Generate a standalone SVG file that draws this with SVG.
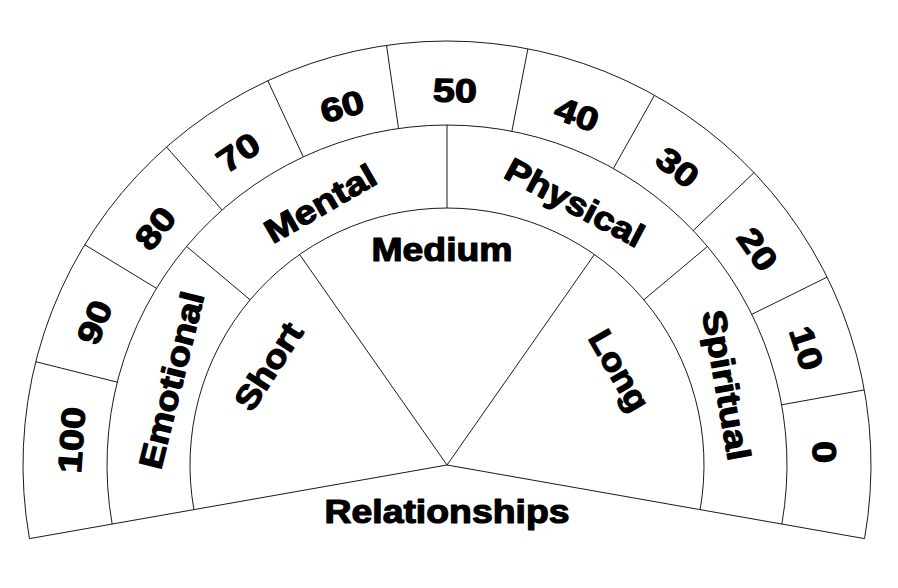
<svg xmlns="http://www.w3.org/2000/svg" width="898" height="588" viewBox="0 0 898 588">
<style>
.ln{fill:none;stroke:#1a1a1a;stroke-width:1}
.t{font-family:"Liberation Sans",Arial,sans-serif;font-weight:bold;font-size:33px;text-anchor:middle;fill:#000;stroke:#000;stroke-width:1.2;stroke-linejoin:round}
</style>
<rect width="898" height="588" fill="#fff"/>
<g id="connectors">
<path class="ln" d="M29.44 538.63 A424 424 0 1 1 864.56 538.63"/>
<path class="ln" d="M112.16 524.04 A340 340 0 1 1 781.84 524.04"/>
<path class="ln" d="M193.9 509.63 A257 257 0 1 1 700.1 509.63"/>
<path class="ln" d="M29.44 538.63 L447 465 L864.56 538.63"/>
<path class="ln" d="M117.24 382.17 L35.78 361.71 M156.5 288.36 L84.73 244.72 M222.08 210.03 L166.51 147.03 M303.31 156.85 L267.81 80.72 M398.51 128.47 L386.53 45.33 M511.88 131.25 L527.9 48.79 M613.39 168.5 L654.5 95.24 M693.22 230.53 L754.05 172.6 M751.81 314.36 L827.11 277.14 M781.63 404.79 L864.3 389.92"/>
<path class="ln" d="M250.13 299.8 L186.55 246.45 M447 208 L447 125 M643.87 299.8 L707.45 246.45"/>
<path class="ln" d="M447 465 L299.59 254.48 M447 465 L594.41 254.48"/>
</g>
<g id="n100"><text class="t" transform="translate(71,440) rotate(-86)" y="12" textLength="66" lengthAdjust="spacingAndGlyphs">100</text></g>
<g id="n90"><text class="t" transform="translate(94,322) rotate(-68)" y="12" textLength="44" lengthAdjust="spacingAndGlyphs">90</text></g>
<g id="n80"><text class="t" transform="translate(155,228) rotate(-51)" y="12" textLength="44" lengthAdjust="spacingAndGlyphs">80</text></g>
<g id="n70"><text class="t" transform="translate(238,152) rotate(-34)" y="12" textLength="44" lengthAdjust="spacingAndGlyphs">70</text></g>
<g id="n60"><text class="t" transform="translate(342,106) rotate(-16)" y="12" textLength="44" lengthAdjust="spacingAndGlyphs">60</text></g>
<g id="n50"><text class="t" transform="translate(455,90) rotate(1)" y="12" textLength="44" lengthAdjust="spacingAndGlyphs">50</text></g>
<g id="n40"><text class="t" transform="translate(577,114) rotate(20)" y="12" textLength="44" lengthAdjust="spacingAndGlyphs">40</text></g>
<g id="n30"><text class="t" transform="translate(678,167) rotate(38)" y="12" textLength="44" lengthAdjust="spacingAndGlyphs">30</text></g>
<g id="n20"><text class="t" transform="translate(758,249) rotate(55)" y="12" textLength="44" lengthAdjust="spacingAndGlyphs">20</text></g>
<g id="n10"><text class="t" transform="translate(807,348) rotate(72)" y="12" textLength="44" lengthAdjust="spacingAndGlyphs">10</text></g>
<g id="n0"><text class="t" transform="translate(825,452) rotate(88)" y="12" textLength="22" lengthAdjust="spacingAndGlyphs">0</text></g>
<g id="emotional"><text class="t" transform="translate(171,380) rotate(-76)" y="12" textLength="181" lengthAdjust="spacingAndGlyphs">Emotional</text></g>
<g id="mental"><text class="t" transform="translate(320,203) rotate(-30)" y="12" textLength="123" lengthAdjust="spacingAndGlyphs">Mental</text></g>
<g id="physical"><text class="t" transform="translate(575,202) rotate(28)" y="12" textLength="152" lengthAdjust="spacingAndGlyphs">Physical</text></g>
<g id="spiritual"><text class="t" transform="translate(727,385) rotate(80)" y="12" textLength="152" lengthAdjust="spacingAndGlyphs">Spiritual</text></g>
<g id="short"><text class="t" transform="translate(268,366) rotate(-57)" y="12" textLength="97" lengthAdjust="spacingAndGlyphs">Short</text></g>
<g id="medium"><text class="t" transform="translate(442,249)" y="12" textLength="141" lengthAdjust="spacingAndGlyphs">Medium</text></g>
<g id="long"><text class="t" transform="translate(620,370) rotate(60)" y="12" textLength="88" lengthAdjust="spacingAndGlyphs">Long</text></g>
<g id="relationships"><text class="t" x="447" y="523" textLength="245" lengthAdjust="spacingAndGlyphs">Relationships</text></g>
</svg>
